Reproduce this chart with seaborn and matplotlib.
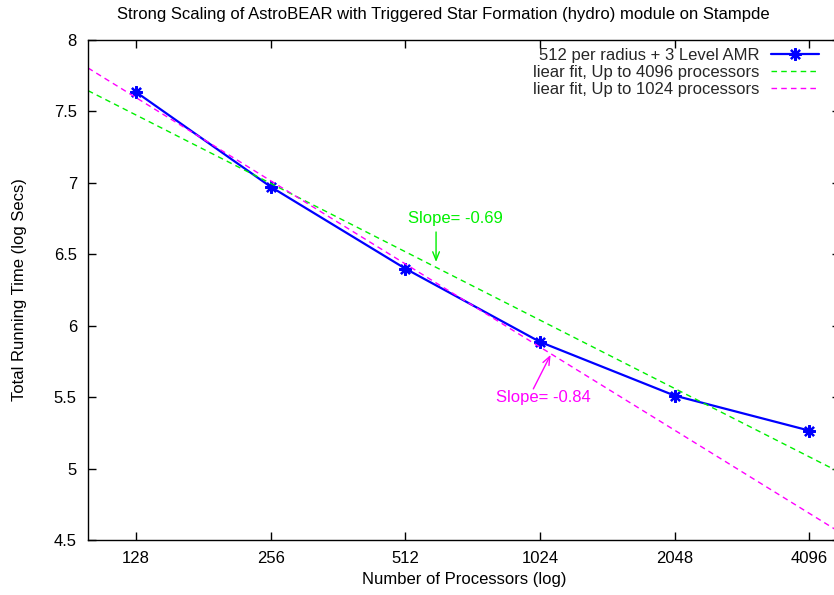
import numpy as np
import pandas as pd
import matplotlib
matplotlib.use("Agg")
import matplotlib.pyplot as plt
import seaborn as sns

# ---- data ----
processors = [128, 256, 512, 1024, 2048, 4096]
log_time = [7.636, 6.973, 6.400, 5.887, 5.511, 5.266]
tick_labels = ["128", "256", "512", "1024", "2048", "4096"]
x_limits = [100, 4800]
y_limits = [4.5, 8.0]
y_ticks = [4.5, 5, 5.5, 6, 6.5, 7, 7.5, 8]

title = "Strong Scaling of AstroBEAR with Triggered Star Formation (hydro) module on Stampde"
xlabel = "Number of Processors (log)"
ylabel = "Total Running Time (log Secs)"
label_data = "512 per radius + 3 Level AMR"
label_fit_all = "liear fit, Up to 4096 processors"
label_fit_1024 = "liear fit, Up to 1024 processors"

# annotation positions (processors, log time)
green_text_pos = (663, 6.754)
green_arrow_tail = (600, 6.656)
green_arrow_head = (600, 6.446)
mag_text_pos = (1043, 5.495)
mag_arrow_tail = (990, 5.558)
mag_arrow_head = (1082, 5.796)

BLUE = "#0000ff"
GREEN = "#00f000"
MAGENTA = "#ff00ff"

sns.set_theme(style="white")
plt.rcParams["font.family"] = ["Liberation Sans", "DejaVu Sans"]
FS = 12

fig = plt.figure(figsize=(8.34, 5.95), dpi=100)
ax = fig.add_axes([88 / 834, (595 - 540) / 595, (840 - 88) / 834, 500 / 595])

df = pd.DataFrame({"N": processors, "t": log_time})

# linear fits in ln(N)
lnN = np.log(np.array(processors, dtype=float))
t = np.array(log_time)
s_all, b_all = np.polyfit(lnN, t, 1)
s_1024, b_1024 = np.polyfit(lnN[:4], t[:4], 1)
xfit = np.array(x_limits, dtype=float)
fit_df = pd.DataFrame({
    "N": xfit,
    "all": b_all + s_all * np.log(xfit),
    "up1024": b_1024 + s_1024 * np.log(xfit),
})

sns.lineplot(data=df, x="N", y="t", ax=ax, color=BLUE, linewidth=1.6,
             marker=(8, 2, 0), markersize=9, markeredgewidth=1.6,
             markeredgecolor=BLUE, label=label_data)
sns.lineplot(data=fit_df, x="N", y="all", ax=ax, color=GREEN, linewidth=1.0,
             label=label_fit_all)
sns.lineplot(data=fit_df, x="N", y="up1024", ax=ax, color=MAGENTA, linewidth=1.0,
             label=label_fit_1024)
for ln in ax.lines[1:]:
    ln.set_linestyle((0, (4, 3)))

ax.set_xscale("log", base=2)
ax.set_xlim(*x_limits)
ax.set_ylim(*y_limits)
ax.set_xticks(processors)
ax.set_xticklabels(tick_labels)
ax.xaxis.set_minor_locator(matplotlib.ticker.NullLocator())
ax.set_yticks(y_ticks)
ax.set_yticklabels([f"{v:g}" for v in y_ticks])

ax.tick_params(axis="both", which="major", direction="in", length=6, width=1,
               color="black", labelsize=FS, labelcolor="black",
               top=True, right=True, bottom=True, left=True, pad=8)
for sp in ax.spines.values():
    sp.set_color("black")
    sp.set_linewidth(1.0)

ax.set_xlabel(xlabel, fontsize=FS, color="black", labelpad=4)
ax.set_ylabel(ylabel, fontsize=FS, color="black", labelpad=19)
fig.text(443 / 834, 1 - 15 / 595, title, ha="center", va="center",
         fontsize=FS, color="black")

# annotations
ax.text(*green_text_pos, "Slope= -0.69", color=GREEN, fontsize=FS,
        ha="center", va="center")
ax.annotate("", xy=green_arrow_head, xytext=green_arrow_tail,
            arrowprops=dict(arrowstyle="->,head_length=0.5,head_width=0.2",
                            color=GREEN, lw=1.0, shrinkA=0, shrinkB=0))
ax.text(*mag_text_pos, "Slope= -0.84", color=MAGENTA, fontsize=FS,
        ha="center", va="center")
ax.annotate("", xy=mag_arrow_head, xytext=mag_arrow_tail,
            arrowprops=dict(arrowstyle="->,head_length=0.5,head_width=0.2",
                            color=MAGENTA, lw=1.0, shrinkA=0, shrinkB=0))

leg = ax.legend(loc="upper right", bbox_to_anchor=(819 / 834, 1 - 48 / 595),
                bbox_transform=fig.transFigure, frameon=False, markerfirst=False,
                fontsize=FS, handlelength=2.9, handletextpad=0.65,
                labelspacing=0.12, borderpad=0, borderaxespad=0)

fig.savefig("out.png", dpi=100)
